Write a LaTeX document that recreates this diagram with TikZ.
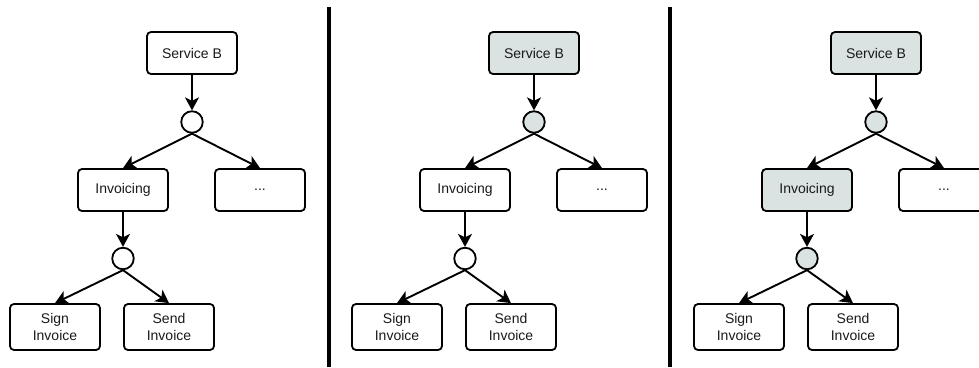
\documentclass[tikz,border=0pt]{standalone}
\usepackage{fontspec}
\setmainfont{Liberation Sans}
\usetikzlibrary{arrows.meta}
\definecolor{visited}{HTML}{DAE2E2}
\definecolor{ink}{HTML}{1A1A1A}
\tikzset{
  task/.style={draw=black, line width=1.8pt, rounded corners=4pt, inner sep=0pt,
    minimum width=90pt, minimum height=42pt, align=center, text=ink,
    font=\fontsize{14}{16.5}\selectfont, fill=white},
  tall/.style={minimum height=46pt},
  gate/.style={draw=black, circle, line width=1.8pt, minimum size=21.5pt, inner sep=0pt, fill=white},
  flow/.style={line width=1.9pt, -{Stealth[length=13pt,width=14pt,inset=3.5pt]}},
  divider/.style={line width=4pt},
}
% One decomposition tree: #1 = horizontal offset, #2 = name suffix,
% #3..#6 = fills of Service B, first gate, Invoicing, second gate
\newcommand{\treepanel}[6]{%
  \begin{scope}[xshift=#1pt]
    \node[task, fill=#3] (sb#2)   at (192,53)    {Service B};
    \node[gate, fill=#4] (ga#2)   at (192,122)   {};
    \node[task, fill=#5] (inv#2)  at (123,190)   {Invoicing};
    \node[task]          (more#2) at (260,190)   {...};
    \node[gate, fill=#6] (gb#2)   at (123,258.5) {};
    \node[task, tall]    (sign#2) at (55,327)    {Sign\\Invoice};
    \node[task, tall]    (send#2) at (169,327)   {Send\\Invoice};
    \draw[flow] (sb#2.south) -- (ga#2.north);
    \draw[flow] (ga#2.south) -- (inv#2.north);
    \draw[flow] (ga#2.south) -- (more#2.north);
    \draw[flow] (inv#2.south) -- (gb#2.north);
    \draw[flow] (gb#2.south) -- (sign#2.north);
    \draw[flow] (gb#2.south) -- (send#2.north);
  \end{scope}}
\begin{document}
\begin{tikzpicture}[x=1pt, y=-1pt]
  \useasboundingbox (0,0) rectangle (979,367);
  \clip (0,0) rectangle (979,367);
  \treepanel{0}{a}{white}{white}{white}{white}
  \treepanel{342}{b}{visited}{visited}{white}{white}
  \treepanel{684}{c}{visited}{visited}{visited}{visited}
  % panel separators
  \draw[divider] (329,7) -- (329,367);
  \draw[divider] (670,7) -- (670,367);
\end{tikzpicture}
\end{document}
